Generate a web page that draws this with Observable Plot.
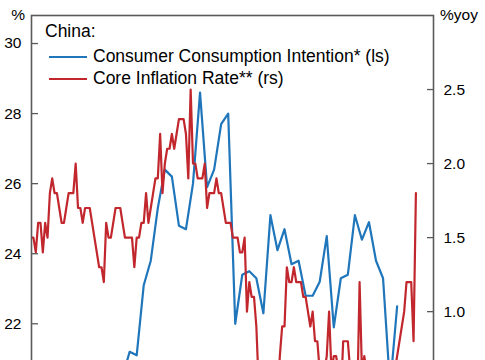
<!DOCTYPE html>
<html><head><meta charset="utf-8">
<script src="https://cdn.jsdelivr.net/npm/d3@7"></script>
<script src="https://cdn.jsdelivr.net/npm/@observablehq/plot@0.6"></script>
<style>
html,body{margin:0;padding:0;overflow:hidden;background:#fff;}
#wrap{position:relative;width:485px;height:360px;overflow:hidden;font-family:"Liberation Sans",Arial,sans-serif;color:#000;}
#wrap svg{position:absolute;left:0;top:0;}
.t{position:absolute;line-height:1;white-space:nowrap;}
.ax{font-size:15.5px;}
.lg{font-size:17.5px;}
.sw{position:absolute;height:2.5px;}
</style></head><body>
<div id="wrap"></div>
<script>
// Core inflation rate, %yoy, monthly from 2012-06 (right scale)
const coreStart = [2012, 6];
const coreInflation = [
  1.5, 1.5, 1.4, 1.6, 1.6, 1.4, 1.6,                          // 2012 Jun-Dec
  1.5, 1.8, 1.9, 1.8, 1.8, 1.7, 1.6, 1.6, 1.7, 1.8, 1.8, 1.8, // 2013
  2.0, 1.7, 1.7, 1.6, 1.7, 1.7, 1.7, 1.6, 1.5, 1.4, 1.3, 1.3, // 2014
  1.2, 1.6, 1.5, 1.5, 1.6, 1.7, 1.7, 1.7, 1.6, 1.5, 1.5, 1.5, // 2015
  1.5, 1.3, 1.5, 1.5, 1.6, 1.6, 1.8, 1.6, 1.7, 1.8, 1.9, 1.9, // 2016
  2.2, 1.8, 2.0, 2.1, 2.1, 2.2, 2.1, 2.2, 2.3, 2.3, 2.3, 2.2, // 2017
  1.9, 2.5, 2.0, 2.0, 1.9, 1.9, 1.9, 2.0, 1.7, 1.8, 1.8, 1.8, // 2018
  1.9, 1.8, 1.8, 1.7, 1.6, 1.6, 1.6, 1.5, 1.5, 1.5, 1.4, 1.4, // 2019
  1.5, 1.0, 1.2, 1.1, 1.1, 0.9, 0.5, 0.5, 0.5, 0.5, 0.5, 0.4, // 2020
  -0.3, 0.0, 0.3, 0.7, 0.9, 0.9, 1.3, 1.2, 1.2, 1.3, 1.2, 1.2, // 2021
  1.2, 1.1, 1.1, 1.0, 0.9, 1.0, 0.8, 0.8, 0.6, 0.6, 0.6, 0.7, // 2022
  1.0, 0.6, 0.7, 0.7, 0.6, 0.4, 0.8, 0.8, 0.8, 0.6, 0.6, 0.6, // 2023
  0.4, 1.2, 0.6, 0.7, 0.6, 0.6, 0.4, 0.3, 0.1, 0.2, 0.3, 0.4, // 2024
  0.6, -0.1, 0.5, 0.5, 0.6, 0.7, 0.8, 0.9, 1.0, 1.2, 1.2, 1.2, // 2025
  0.8, 1.8                                                     // 2026 Jan-Feb
];
// Consumer consumption intention, %, quarterly (left scale)
const intentionQuarters = [
  "2015Q3","2015Q4","2016Q1","2016Q2","2016Q3","2016Q4","2017Q1","2017Q2","2017Q3","2017Q4",
  "2018Q1","2018Q2","2018Q3","2018Q4","2019Q1","2019Q2","2019Q3","2019Q4","2020Q1","2020Q2",
  "2020Q3","2020Q4","2021Q1","2021Q2","2021Q3","2021Q4","2022Q1","2022Q2","2022Q3","2022Q4",
  "2023Q1","2023Q2","2023Q3","2023Q4","2024Q1","2024Q2","2024Q3","2024Q4","2025Q1","2025Q2"
];
const consumptionIntention = [
  20.5, 21.2, 21.1, 23.1, 23.8, 25.3, 26.4, 26.2, 24.8, 24.7,
  26.0, 28.6, 25.9, 26.4, 27.7, 28.0, 22.0, 23.4, 23.5, 23.3,
  22.3, 25.1, 24.1, 24.7, 23.7, 23.8, 22.8, 22.8, 23.2, 24.5,
  21.9, 23.3, 23.4, 25.1, 24.4, 24.9, 23.8, 23.3, 20.2, 22.5
];
const leftTicks = [22, 24, 26, 28, 30];
const rightTicks = [1.0, 1.5, 2.0, 2.5];
const leftDomain = [19.81, 30.8];
const rightDomain = [0.4, 3.0];
const monthDomain = [0.17, 171.5]; // months since 2012-06

const BLUE = "#1f76bb", RED = "#c1272d", AXIS = "#5a5a5a";
const toLeft = r => leftDomain[0] + (r - rightDomain[0]) * (leftDomain[1] - leftDomain[0]) / (rightDomain[1] - rightDomain[0]);
const toRight = l => rightDomain[0] + (l - leftDomain[0]) * (rightDomain[1] - rightDomain[0]) / (leftDomain[1] - leftDomain[0]);

const red = coreInflation.map((v, i) => ({m: i, v}));
const blue = intentionQuarters.map((q, i) => ({
  m: (+q.slice(0, 4) - coreStart[0]) * 12 + (+q.slice(5)) * 3 - coreStart[1],
  v: consumptionIntention[i]
}));

const chart = Plot.plot({
  width: 485, height: 420,
  marginTop: 15, marginBottom: 20, marginLeft: 31, marginRight: 52,
  style: {fontFamily: "'Liberation Sans', Arial, sans-serif", fontSize: "15.5px", color: "#000", background: "transparent", overflow: "visible"},
  x: {domain: monthDomain, axis: null},
  y: {domain: leftDomain, axis: null},
  marks: [
    Plot.line(blue, {x: "m", y: "v", stroke: BLUE, strokeWidth: 2.2, clip: true}),
    Plot.line(red, {x: "m", y: d => toLeft(d.v), stroke: RED, strokeWidth: 2.2, clip: true}),
    Plot.frame({stroke: AXIS, strokeWidth: 1.6}),
    Plot.axisY({anchor: "left", label: null, ticks: leftTicks, tickSize: -7, tickPadding: 17, stroke: AXIS, fill: "#000", strokeWidth: 1.3, tickFormat: d => String(d)}),
    Plot.axisY({anchor: "right", label: null, ticks: rightTicks.map(toLeft), tickSize: -7, tickPadding: 17, stroke: AXIS, fill: "#000", strokeWidth: 1.3, tickFormat: v => toRight(v).toFixed(1)})
  ]
});
const wrap = document.getElementById("wrap");
wrap.appendChild(chart);

function addText(txt, cls, left, top, right) {
  const d = document.createElement("div");
  d.className = "t " + cls;
  d.textContent = txt;
  if (right != null) { d.style.right = right + "px"; } else { d.style.left = left + "px"; }
  d.style.top = top + "px";
  wrap.appendChild(d);
}
function addSwatch(color, left, top, w) {
  const d = document.createElement("div");
  d.className = "sw";
  d.style.background = color; d.style.left = left + "px"; d.style.top = top + "px"; d.style.width = w + "px";
  wrap.appendChild(d);
}
addText("%", "ax", null, 6.9, 485 - 25);
addText("%yoy", "ax", 440, 6.9);
addText("China:", "lg", 45, 22.7);
addSwatch(BLUE, 49, 55.5, 38);
addText("Consumer Consumption Intention* (ls)", "lg", 93, 48.2);
addSwatch(RED, 49, 77.8, 38);
addText("Core Inflation Rate** (rs)", "lg", 93, 69.5);
</script>
</body></html>
